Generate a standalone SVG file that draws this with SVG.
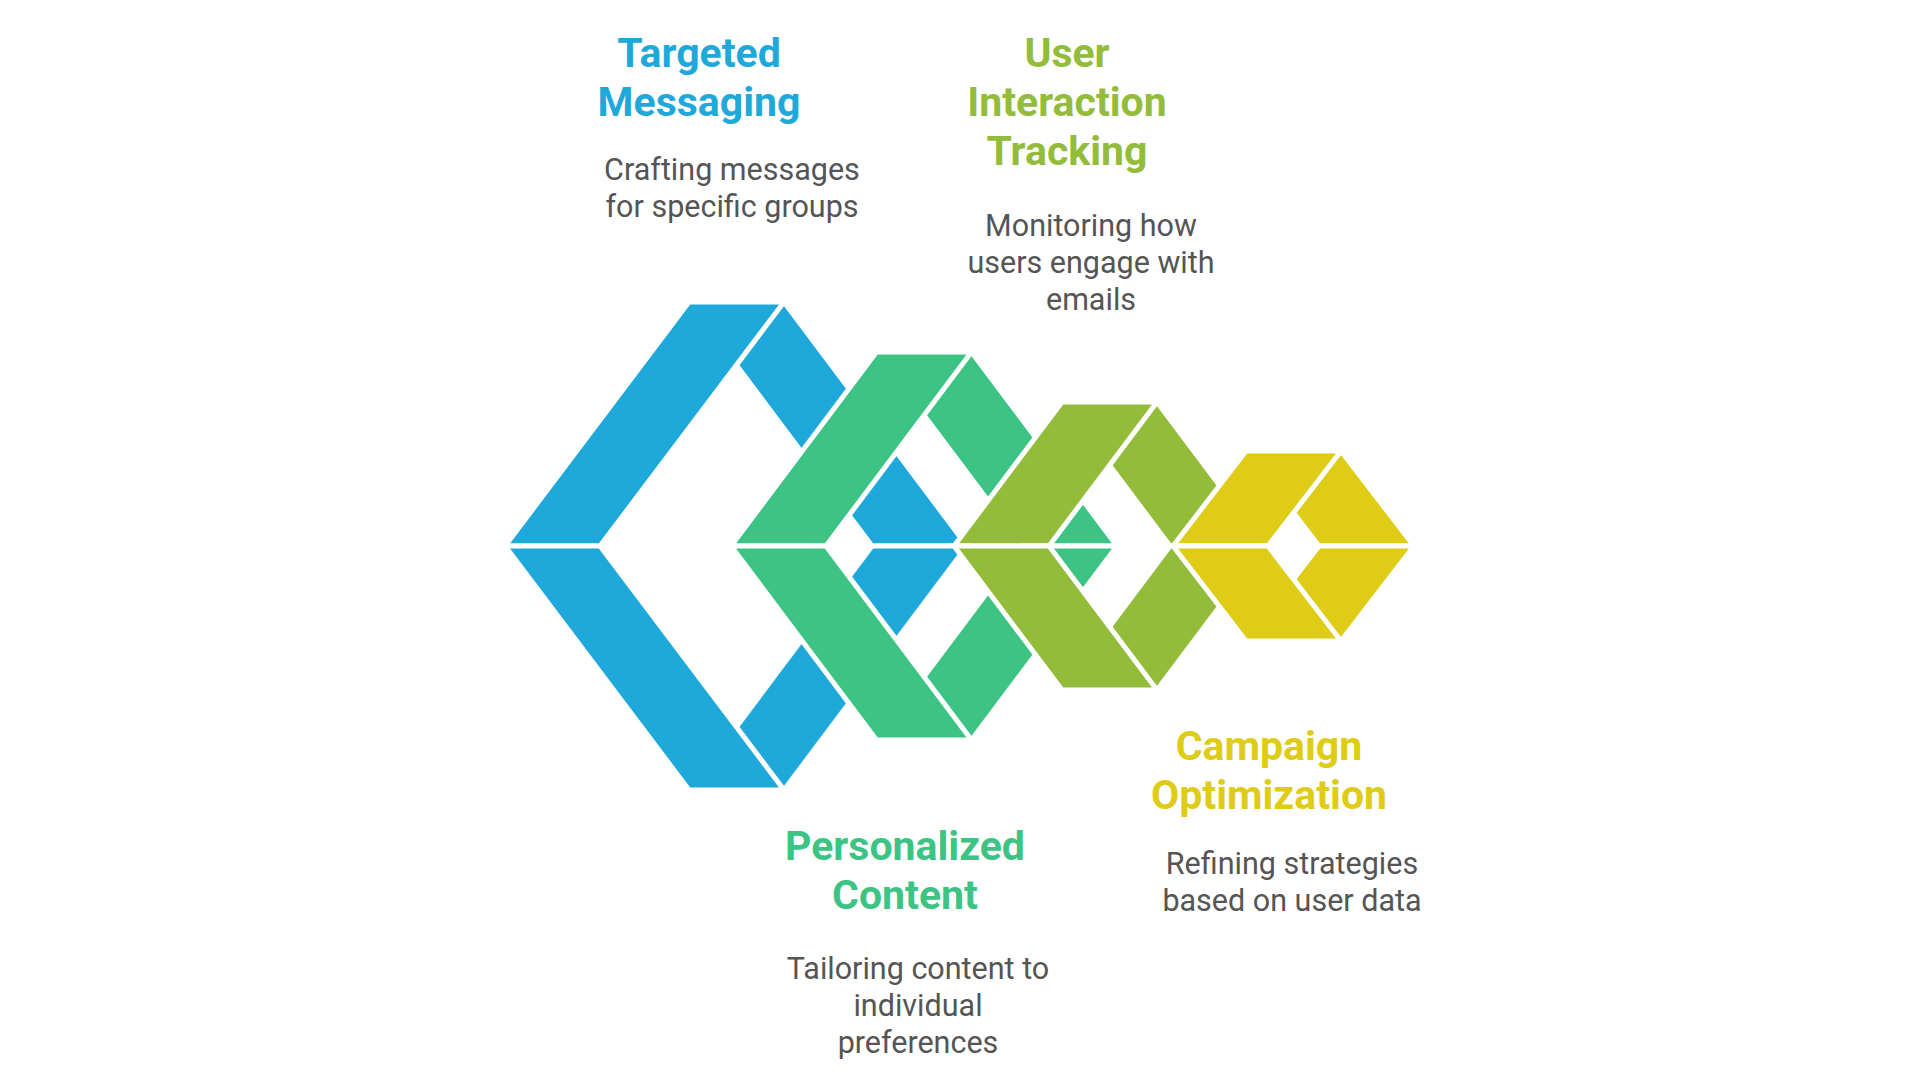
<svg xmlns="http://www.w3.org/2000/svg" width="1920" height="1080" viewBox="0 0 1920 1080">
<style>
.p{stroke:#fff;stroke-width:5;stroke-linejoin:miter}
.b{fill:#1FA9DA}.g{fill:#3DC484}.o{fill:#92BC3A}.y{fill:#DFCC16}
.t{font-family:Roboto,"Liberation Sans",sans-serif;font-weight:bold;font-size:41px;text-anchor:middle}
.d{font-family:Roboto,"Liberation Sans",sans-serif;font-size:30.5px;fill:#555;text-anchor:middle}
</style>
<rect width="1920" height="1080" fill="#fff"/>
<defs>
<g id="half">
<polygon class="p b" points="689,302 784,302 967,546 872,546"/>
<polygon class="p b" points="505,546 689,302 784,302 600,546"/>
<polygon class="p g" points="876.5,352 971.5,352 1117,546 1022,546"/>
<polygon class="p g" points="731,546 876.5,352 971.5,352 826,546"/>
<polygon class="p o" points="1062,402 1157,402 1265,546 1170,546"/>
<polygon class="p o" points="954,546 1062,402 1157,402 1049,546"/>
<polygon class="p y" points="1246,451 1341,451 1414,546 1319,546"/>
<polygon class="p y" points="1173,546 1246,451 1341,451 1268,546"/>
</g>
</defs>
<g id="shapes">
<use href="#half"/>
<use href="#half" transform="translate(0,1092) scale(1,-1)"/>
</g>
<g id="n1"><text class="t" fill="#1FA9DA" x="699" y="67">Targeted</text><text class="t" fill="#1FA9DA" x="699" y="116">Messaging</text>
<text class="d" x="732" y="180">Crafting messages</text><text class="d" x="732" y="217">for specific groups</text></g>
<g id="n2"><text class="t" fill="#3DC484" x="905" y="860">Personalized</text><text class="t" fill="#3DC484" x="905" y="909">Content</text>
<text class="d" x="918" y="979">Tailoring content to</text><text class="d" x="918" y="1016">individual</text><text class="d" x="918" y="1053">preferences</text></g>
<g id="n3"><text class="t" fill="#92BC3A" x="1067" y="67">User</text><text class="t" fill="#92BC3A" x="1067" y="116">Interaction</text><text class="t" fill="#92BC3A" x="1067" y="165">Tracking</text>
<text class="d" x="1091" y="236">Monitoring how</text><text class="d" x="1091" y="273">users engage with</text><text class="d" x="1091" y="310">emails</text></g>
<g id="n4"><text class="t" fill="#DFCC16" x="1269" y="760">Campaign</text><text class="t" fill="#DFCC16" x="1269" y="809">Optimization</text>
<text class="d" x="1292" y="874">Refining strategies</text><text class="d" x="1292" y="911">based on user data</text></g>
</svg>
